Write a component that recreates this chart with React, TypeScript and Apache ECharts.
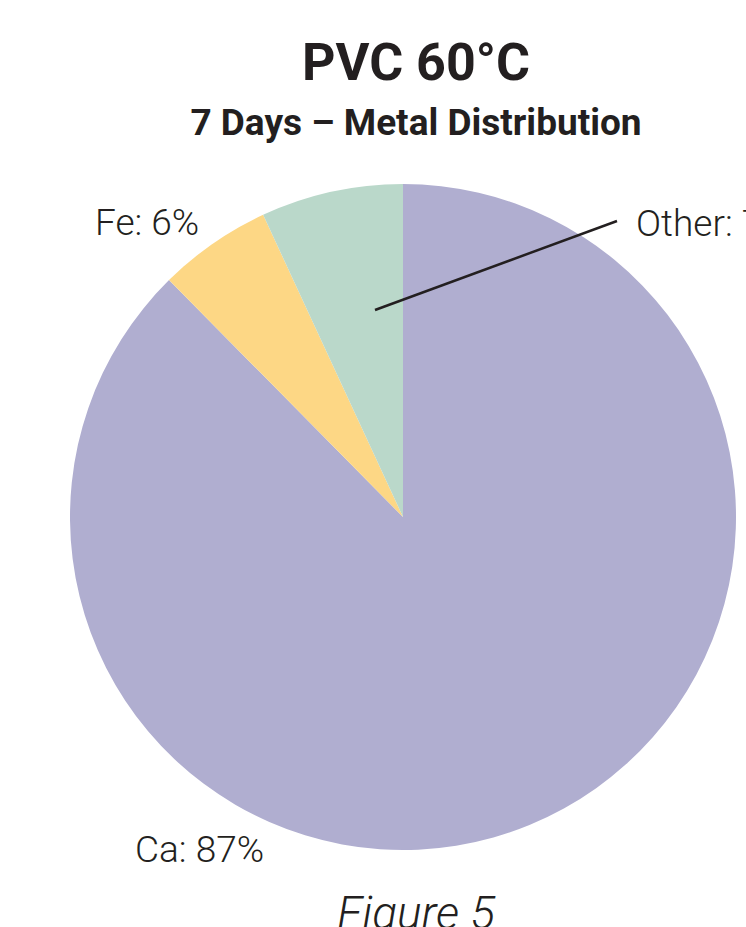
import React, { useEffect, useRef } from "react";
import * as echarts from "echarts";

const categories = ["Ca", "Fe", "Other"];
const values = [87.6, 5.5, 6.9];
// percentages as printed in the labels
const printedPercents = ["87%", "6%", "7%"];
const colors = ["#b0aed0", "#fdd785", "#bad8ca"];
const titleText = "PVC 60°C";
const subtitleText = "7 Days – Metal Distribution";
const captionText = "Figure 5";

const FONT = "Roboto, 'DejaVu Sans', sans-serif";

export default function App() {
  const ref = useRef<HTMLDivElement>(null);
  useEffect(() => {
    if (!ref.current) return;
    const chart = echarts.init(ref.current, null, { renderer: "svg" });
    const labelPos: Record<string, any> = {
      Ca: { x: 135, y: 849 },
      Fe: { x: 95, y: 222 },
      Other: { x: 636, y: 223 },
    };
    chart.setOption({
      animation: false,
      backgroundColor: "#ffffff",
      title: [
        {
          text: titleText,
          left: 411,
          top: 31,
          textAlign: "center",
          textStyle: { fontFamily: FONT, fontWeight: "bold", fontSize: 52, color: "#231f20" },
        },
        {
          text: subtitleText,
          left: 411,
          top: 99,
          textAlign: "center",
          textStyle: { fontFamily: FONT, fontWeight: "bold", fontSize: 37, color: "#231f20" },
        },
        {
          text: captionText,
          left: 411,
          top: 885,
          textAlign: "center",
          textStyle: { fontFamily: FONT, fontStyle: "italic", fontWeight: 300, fontSize: 46, color: "#231f20" },
        },
      ],
      graphic: [
        {
          type: "line",
          shape: { x1: 375, y1: 310, x2: 617, y2: 221 },
          style: { stroke: "#231f20", lineWidth: 2.5 },
          z: 100,
        },
      ],
      series: [
        {
          type: "pie",
          center: [403, 517],
          radius: [0, 333],
          startAngle: 90,
          clockwise: true,
          silent: true,
          data: categories.map((c, i) => ({
            name: c,
            value: values[i],
            itemStyle: { color: colors[i] },
          })),
          label: {
            show: true,
            position: "outside",
            formatter: (p: any) => `${p.name}: ${printedPercents[p.dataIndex]}`,
            fontFamily: FONT,
            fontWeight: 300,
            fontSize: 37,
            color: "#231f20",
          },
          labelLine: { show: false },
          labelLayout: (params: any) => {
            const p = labelPos[categories[params.dataIndex]];
            return { x: p.x, y: p.y, align: "left", verticalAlign: "middle" };
          },
        },
      ],
    });
    return () => chart.dispose();
  }, []);
  return (
    <div
      ref={ref}
      style={{ position: "fixed", left: 0, top: 0, width: 746, height: 927 }}
    />
  );
}
